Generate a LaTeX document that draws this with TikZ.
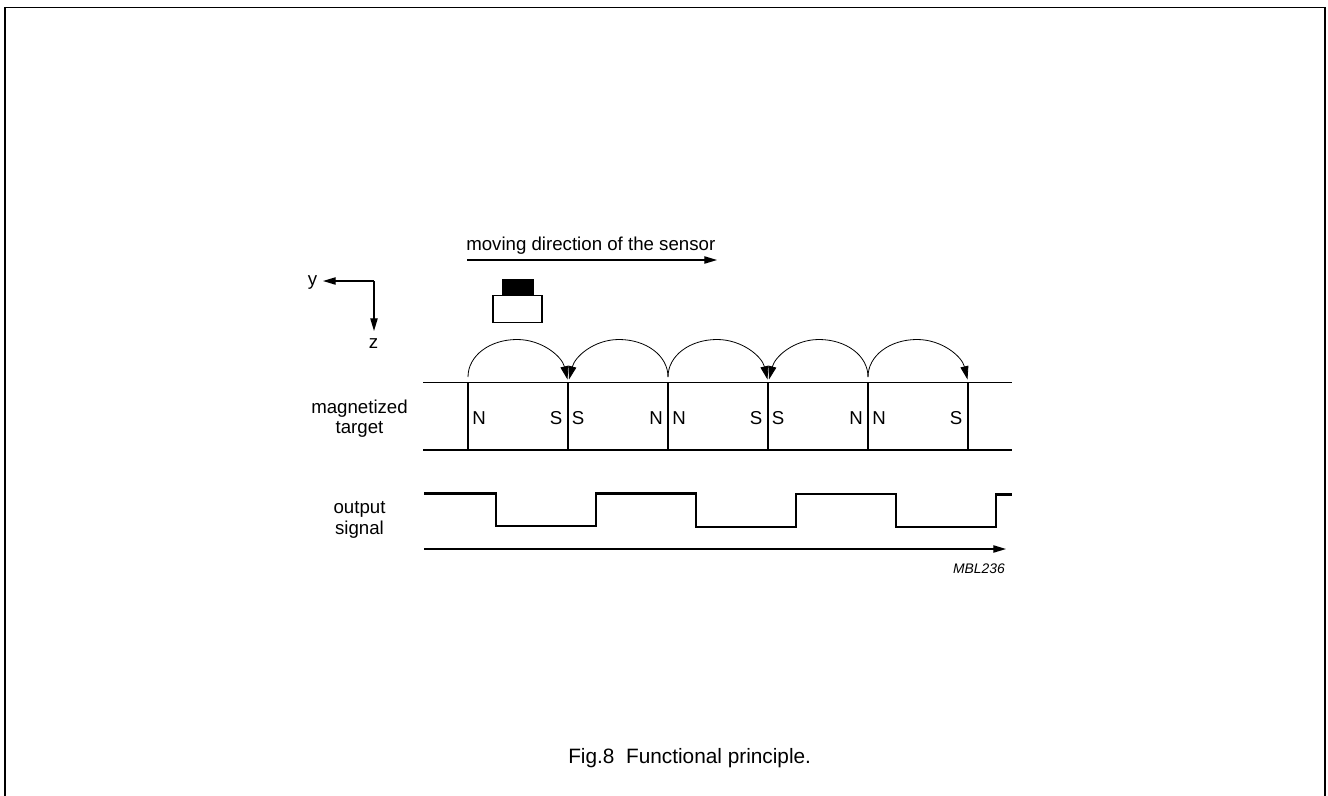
\documentclass[tikz,border=0pt]{standalone}
\usepackage{fontspec}
\setmainfont{Liberation Sans}
\usetikzlibrary{arrows.meta,calc}
\tikzset{
  lab/.style={inner sep=0pt,font=\fontsize{14}{17}\selectfont,align=center},
  pole/.style={inner sep=0pt,font=\fontsize{14}{17}\selectfont},
  mag/.style={line width=1.1pt},
  sig/.style={line width=2.2pt,line join=miter},
  axis/.style={line width=0.9pt,-{Stealth[length=9.5pt,width=5.5pt,inset=0pt]}},
  flux/.style={line width=0.6pt,-{Stealth[length=10pt,width=6pt,inset=0pt]}}
}
\begin{document}
\begin{tikzpicture}[x=0.75pt,y=-0.75pt]
\useasboundingbox (0,0) rectangle (1328,796);
% frame
\coordinate (f1) at (5,796); \coordinate (f2) at (5,7.5); \coordinate (f3) at (1325,7.5); \coordinate (f4) at (1325,796);
\draw[line width=1.2pt] (f1) -- (f2) -- (f3) -- (f4);
% moving direction
\node[lab,anchor=base west] (mov) at (466,250) {moving direction of the sensor};
\coordinate (m1) at (467,260); \coordinate (m2) at (717,260);
\draw[axis] (m1) -- (m2);
% axes
\coordinate (o) at (374,281); \coordinate (ytip) at (323,281); \coordinate (ztip) at (374,331);
\node[lab,anchor=base] (ylab) at (312.5,285) {y};
\node[lab,anchor=base] (zlab) at (373.5,348) {z};
\draw[axis] (o) -- (ytip);
\draw[axis] (o) -- (ztip);
% sensor
\node[draw=black,fill=black,line width=0pt,minimum width=31pt*0.75,minimum height=15pt*0.75,inner sep=0pt,anchor=south] (chip) at (517.5,294) {};
\node[draw=black,line width=1.1pt,minimum width=49pt*0.75,minimum height=27pt*0.75,inner sep=0pt,anchor=north] (body) at (517.5,294.5) {};
% target
\coordinate (tl1) at (423,382.5); \coordinate (tr1) at (1012,382.5);
\coordinate (tl2) at (423,450); \coordinate (tr2) at (1012,450);
\draw[mag] (tl1) -- (tr1);
\draw[mag] (tl2) -- (tr2);
\foreach \n/\x in {a/468,b/568,c/668,d/768,e/868,f/968}{
  \coordinate (\n t) at (\x,382.5);
  \coordinate (\n b) at (\x,450);
  \draw[mag] (\n t) -- (\n b);
}
% poles
\foreach \n/\x/\t in {p1/479/N,p2/556/S,p3/578/S,p4/656/N,p5/679/N,p6/756/S,p7/778/S,p8/856/N,p9/879/N,p10/956/S}{
  \node[pole,anchor=base] (\n) at (\x,424) {\t};
}
% flux arcs
\foreach \s/\e in {a/b,c/d,e/f}{
  \draw[flux] ($(\s t)+(0,-5.5)$) .. controls ($(\s t)+(0,-27)$) and ($(\s t)+(22,-43)$) .. ($(\s t)+(49,-43)$)
     .. controls ($(\s t)+(74,-43)$) and ($(\s t)+(94,-26)$) .. ($(\e t)+(-0.5,-3)$);
}
\foreach \s/\e in {c/b,e/d}{
  \draw[flux] ($(\s t)+(0,-5.5)$) .. controls ($(\s t)+(0,-27)$) and ($(\s t)+(-22,-43)$) .. ($(\s t)+(-49,-43)$)
     .. controls ($(\s t)+(-74,-43)$) and ($(\s t)+(-93,-26)$) .. ($(\e t)+(1,-3)$);
}
% labels
\node[lab,anchor=base] (magl) at (359.5,413) {magnetized};
\node[lab,anchor=base] (magl2) at (359.5,433.5) {target};
\node[lab,anchor=base] (outl) at (359.5,513) {output};
\node[lab,anchor=base] (outl2) at (359.5,534) {signal};
% signal
\coordinate (s0) at (424,493.5); \coordinate (s9) at (1012,494.5);
\draw[sig] (s0) -- (496,493.5) -- (496,526) -- (596,526) -- (596,493.5) -- (696,493.5) -- (696,527) -- (796,527) -- (796,494) -- (896,494) -- (896,527) -- (996,527) -- (996,494.5) -- (s9);
% time axis
\coordinate (t1) at (424,549); \coordinate (t2) at (1006,549);
\draw[axis] (t1) -- (t2);
\node[inner sep=0pt,anchor=base east,font=\fontsize{10.4}{12}\selectfont\itshape] (code) at (1005,573) {MBL236};
% caption
\node[inner sep=0pt,anchor=base west,font=\fontsize{15.6}{18}\selectfont] (cap) at (568,763) {Fig.8\ \ Functional principle.};
\end{tikzpicture}
\end{document}
